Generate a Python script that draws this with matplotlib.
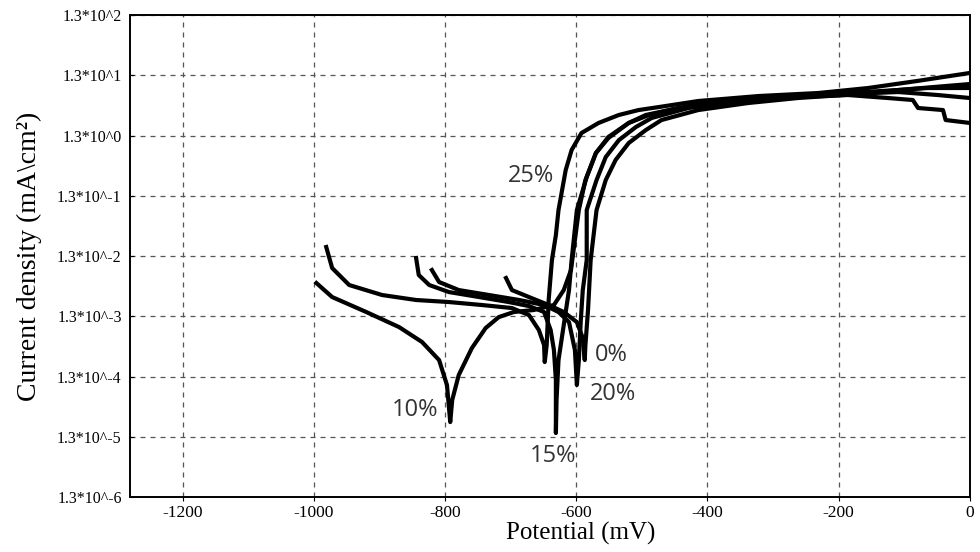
"""
Potentiodynamic polarization (Tafel) curves
"""
import numpy as np
import matplotlib
matplotlib.use("Agg")
import matplotlib.pyplot as plt

# potential in mV, current density in mA/cm2
e_10 = [-996, -972, -920, -870, -835, -809, -797, -792, -789, -779, -759, -738,
        -718, -695, -665, -634, -619, -608, -602, -596, -586, -570, -551, -520,
        -489, -444, -383, -292, -186, -109, -49, 0]
i_10 = [0.00463, 0.00271, 0.00153, 0.00086, 0.000486, 0.000244, 0.000094, 0.0000228,
        0.000053, 0.000138, 0.000386, 0.00083, 0.00126, 0.00153, 0.00165, 0.00200,
        0.00354, 0.00761, 0.0240, 0.0754, 0.237, 0.666, 1.18, 2.10,
        2.85, 3.72, 4.86, 5.66, 6.60, 7.40, 8.40, 9.30]

e_25 = [-981, -972, -946, -896, -844, -794, -744, -698, -672, -657, -649, -648,
        -645, -642, -637, -631, -627, -616, -607, -592, -566, -535, -505, -474,
        -414, -322, -231, -155, -79, 0]
i_25 = [0.01834, 0.00822, 0.00429, 0.00293, 0.00242, 0.00224, 0.00200, 0.00178,
        0.00136, 0.00077, 0.000433, 0.000226, 0.000433, 0.00242, 0.01115, 0.0290,
        0.0754, 0.348, 0.747, 1.43, 2.10, 2.85, 3.44, 3.86,
        4.86, 5.88, 6.60, 7.99, 10.5, 14.2]

e_15 = [-844, -840, -824, -794, -748, -703, -672, -649, -639, -634, -631, -631,
        -630, -627, -619, -611, -607, -599, -584, -570, -551, -520, -494, -444,
        -383, -292, -186, -109, -49, 0]
i_15 = [0.01204, 0.00629, 0.00429, 0.00328, 0.00271, 0.00224, 0.00192, 0.00153,
        0.00077, 0.000358, 0.000114, 0.000015, 0.000053, 0.000244, 0.00093, 0.00354,
        0.01115, 0.0754, 0.266, 0.666, 1.23, 2.10, 2.85, 3.72,
        4.86, 5.66, 6.35, 6.85, 6.11, 5.45]

e_20 = [-820, -809, -779, -733, -687, -649, -627, -611, -602, -599, -596, -593,
        -590, -584, -584, -569, -555, -535, -509, -485, -429, -353, -262, -186,
        -125, -87, -79, -41, -37, 0]
i_20 = [0.00761, 0.00481, 0.00354, 0.00293, 0.00242, 0.00200, 0.00153, 0.00104,
        0.000358, 0.000094, 0.000244, 0.00113, 0.00354, 0.01115, 0.0754, 0.237,
        0.571, 1.09, 1.80, 2.54, 3.72, 4.86, 5.66, 6.11,
        5.45, 5.05, 3.72, 3.44, 2.35, 2.10]

e_0 = [-707, -698, -672, -642, -619, -599, -590, -587, -586, -582, -578, -569,
       -555, -540, -520, -494, -470, -414, -338, -262, -170, -109, -64, 0]
i_0 = [0.00561, 0.00354, 0.00271, 0.00200, 0.00153, 0.00104, 0.000566, 0.000244,
       0.000433, 0.00165, 0.01115, 0.0754, 0.237, 0.510, 0.976, 1.60, 2.35, 3.44,
       4.50, 5.45, 6.35, 7.40, 7.99, 7.99]

curves = [(e_10, i_10), (e_25, i_25), (e_15, i_15), (e_20, i_20), (e_0, i_0)]

# curve labels: text, potential, current density
label_text = ["25%", "0%", "20%", "10%", "15%"]
label_e = [-669, -546, -544, -846, -636]
label_i = [0.277, 2.96e-4, 6.66e-5, 3.61e-5, 6.23e-6]

y_exponents = list(range(-6, 3))
x_ticks = [-1200, -1000, -800, -600, -400, -200, 0]

serif = ["Liberation Serif", "DejaVu Serif"]

fig = plt.figure(figsize=(9.8, 5.52), dpi=100)
ax = fig.add_axes([0.1327, 0.0996, 0.857, 0.8732])

for e, i in curves:
    ax.plot(e, i, color="black", linewidth=3.0, solid_joinstyle="round")

ax.set_yscale("log")
ax.set_xlim(-1280, 0)
ax.set_ylim(1.3e-6, 1.3e2)

yt = [1.3 * 10.0 ** k for k in y_exponents]
ax.set_yticks(yt)
ax.set_yticklabels([f"1.3*10^{k}" for k in y_exponents], fontfamily=serif, fontsize=11.5)
ax.yaxis.set_minor_locator(matplotlib.ticker.NullLocator())
ax.set_xticks(x_ticks)
ax.set_xticklabels([str(v) for v in x_ticks], fontfamily=serif, fontsize=12.5)

ax.tick_params(axis="y", direction="in", length=3, pad=6)
ax.tick_params(axis="x", direction="out", length=3, pad=3)

ax.grid(True, which="major", color="#555555", linestyle=(0, (4, 4)), linewidth=0.9)

for sp in ax.spines.values():
    sp.set_linewidth(1.4)

ax.set_xlabel("Potential (mV)", fontfamily=serif, fontsize=18, labelpad=0)
ax.set_ylabel("Current density (mA\\cm²)", fontfamily=serif, fontsize=20, labelpad=2)
ax.xaxis.set_label_coords(0.536, -0.052)
ax.yaxis.set_label_coords(-0.105, 0.5)

for t, x, y in zip(label_text, label_e, label_i):
    ax.text(x, y, t, fontsize=17, fontfamily="Open Sans", ha="center", va="center",
            color="#333333")

fig.savefig("out.png", dpi=100)
plt.close(fig)
